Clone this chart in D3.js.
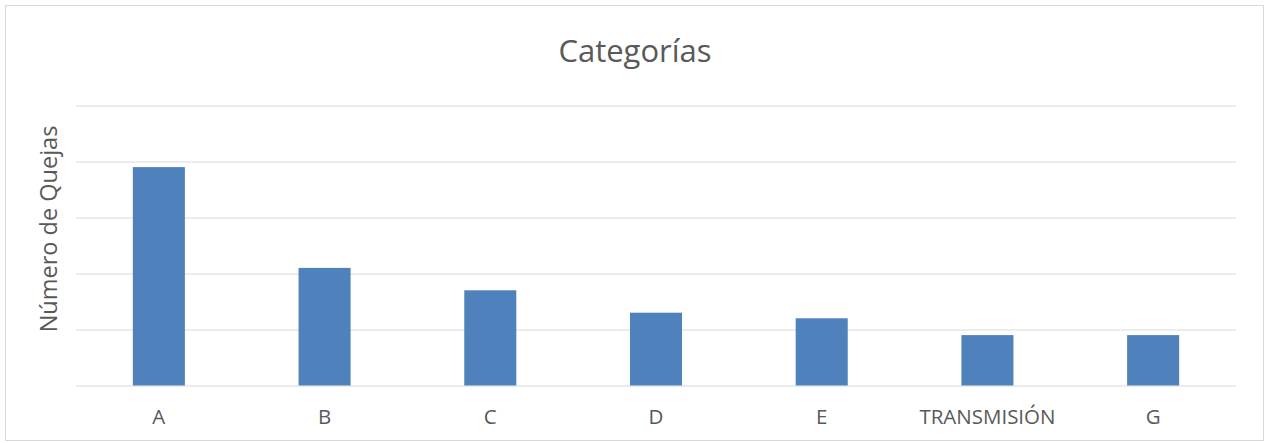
<!DOCTYPE html>
<html>
<head>
<meta charset="utf-8">
<script src="https://cdn.jsdelivr.net/npm/d3@7/dist/d3.min.js"></script>
<style>
  html, body { margin: 0; padding: 0; background: #fff; }
  svg { display: block; }
  text { font-family: "Open Sans", "Noto Sans", sans-serif; fill: #595959; }
</style>
</head>
<body>
<svg id="chart" width="1266" height="443"></svg>
<script>
// Complaint counts per category
const categories = ["A", "B", "C", "D", "E", "TRANSMISIÓN", "G"];
const quejas = [39, 21, 17, 13, 12, 9, 9];
const yTicks = [0, 10, 20, 30, 40, 50];

const chartTitle = "Categorías";
const yTitle = "Número de Quejas";

const plot = { left: 76, right: 1236, top: 105.5, bottom: 385.5 };

const svg = d3.select("#chart");

// chart frame
svg.append("rect")
  .attr("x", 5.5).attr("y", 5.5)
  .attr("width", 1258).attr("height", 435)
  .attr("fill", "#fff")
  .attr("stroke", "#d9d9d9")
  .attr("stroke-width", 1);

const x = d3.scaleBand()
  .domain(categories)
  .range([plot.left, plot.right])
  .paddingInner(0.686)
  .paddingOuter(0.343);

const y = d3.scaleLinear()
  .domain([0, 50])
  .range([plot.bottom, plot.top]);

// horizontal gridlines, no tick labels
const yAxis = d3.axisLeft(y)
  .tickValues(yTicks)
  .tickSize(-(plot.right - plot.left))
  .tickFormat("");
const gy = svg.append("g")
  .attr("transform", `translate(${plot.left},0)`)
  .call(yAxis);
gy.select(".domain").remove();
gy.selectAll(".tick line")
  .attr("stroke", "#d9d9d9")
  .attr("stroke-width", 1.2);

// bars
svg.append("g")
  .selectAll("rect")
  .data(categories.map((c, i) => ({ c, v: quejas[i] })))
  .join("rect")
  .attr("x", d => x(d.c))
  .attr("y", d => y(d.v))
  .attr("width", x.bandwidth())
  .attr("height", d => y(0) - y(d.v))
  .attr("fill", "#4f81bd");

// category axis labels
const xAxis = d3.axisBottom(x).tickSize(0).tickPadding(0);
const gx = svg.append("g")
  .attr("transform", `translate(0,${plot.bottom})`)
  .call(xAxis);
gx.select(".domain").remove();
gx.selectAll(".tick text")
  .attr("y", 38.5)
  .attr("dy", null)
  .style("font-family", "\"Open Sans\", sans-serif")
  .style("font-size", "20.5px")
  .attr("fill", "#595959");

// chart title
svg.append("text")
  .attr("x", 635)
  .attr("y", 62)
  .attr("text-anchor", "middle")
  .style("font-size", "31px")
  .text(chartTitle);

// vertical axis title
svg.append("text")
  .attr("transform", "translate(57,229) rotate(-90)")
  .attr("text-anchor", "middle")
  .style("font-size", "23.5px")
  .text(yTitle);
</script>
</body>
</html>
